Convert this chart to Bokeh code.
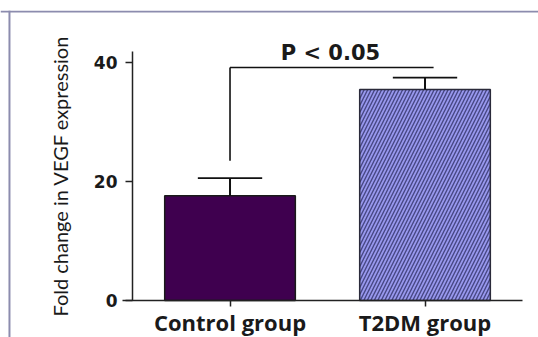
from bokeh.plotting import figure
from bokeh.models import Range1d, FixedTicker, Span
from bokeh.core.properties import value
from bokeh.embed import file_html
from bokeh.resources import INLINE

# ---- data ----
categories = ["Control group", "T2DM group"]
means = [17.6, 35.5]
upper = [20.6, 37.5]
y_ticks = [0, 20, 40]
bracket_y = 39.2
bracket_drop = 23.5
p_text = "P < 0.05"

xs = [i + 0.5 for i in range(len(categories))]
bar_w = 0.67
cap_half = 0.165

p = figure(width=538, height=337, output_backend="svg", toolbar_location=None,
           title=None,
           x_range=Range1d(-0.677, 2.082), y_range=Range1d(-6.224, 48.78),
           min_border=0, min_border_top=10)
p.outline_line_color = None
p.xgrid.grid_line_color = None
p.ygrid.grid_line_color = None
p.background_fill_color = "white"
p.border_fill_color = "white"

# frame border (decoration)
p.add_layout(Span(location=-0.631, dimension="height", line_color="#8c8cae", line_width=2))
p.add_layout(Span(location=48.61, dimension="width", line_color="#8c8cae", line_width=2))

# bars
p.vbar(x=[xs[0]], top=[means[0]], width=bar_w, bottom=0,
       fill_color="#3f004f", line_color="#1a1a1a", line_width=1.5)
p.vbar(x=[xs[1]], top=[means[1]], width=bar_w, bottom=0,
       fill_color="#9898ee", line_color="#2a2a3a", line_width=1.5,
       hatch_pattern="/", hatch_color="#33336a", hatch_alpha=0.8,
       hatch_scale=7, hatch_weight=1.4)

# error bars
p.segment(x0=xs, y0=means, x1=xs, y1=upper, line_color="#111111", line_width=2)
p.segment(x0=[x - cap_half for x in xs], y0=upper,
          x1=[x + cap_half for x in xs], y1=upper, line_color="#111111", line_width=1.8)

# significance bracket
p.segment(x0=[xs[0], xs[0]], y0=[bracket_y, bracket_y],
          x1=[xs[1] + 0.044, xs[0]], y1=[bracket_y, bracket_drop],
          line_color="#111111", line_width=1.6)
p.text(x=[1.015], y=[41.7], text=[p_text], text_align="center",
       text_baseline="middle", text_font=value("DejaVu Sans"),
       text_font_style="bold", text_font_size="21px", text_color="#1a1a1a")

# axes (fixed inside the frame)
p.xaxis.fixed_location = 0
p.xaxis.bounds = (-0.051, 2.0)
p.xaxis.ticker = FixedTicker(ticks=xs)
p.xaxis.major_label_overrides = {x: c for x, c in zip(xs, categories)}
p.xaxis.major_label_text_font = "Open Sans"
p.xaxis.major_label_text_font_style = "bold"
p.xaxis.major_label_text_font_size = "22px"
p.xaxis.major_label_text_color = "#1a1a1a"
p.xaxis.major_label_standoff = 1
p.xaxis.major_tick_out = 6
p.xaxis.major_tick_in = 0
p.xaxis.minor_tick_line_color = None
p.xaxis.axis_line_width = 1.5
p.xaxis.axis_line_color = "#222222"
p.xaxis.major_tick_line_width = 1.5
p.xaxis.major_tick_line_color = "#222222"

p.yaxis.fixed_location = 0
p.yaxis.ticker = FixedTicker(ticks=y_ticks)
p.yaxis.bounds = (0, 41.9)
p.yaxis.major_label_text_font = "DejaVu Sans"
p.yaxis.major_label_text_font_style = "bold"
p.yaxis.major_label_text_font_size = "17px"
p.yaxis.major_label_text_color = "#1a1a1a"
p.yaxis.major_label_standoff = 8
p.yaxis.major_tick_out = 7
p.yaxis.major_tick_in = 0
p.yaxis.minor_tick_line_color = None
p.yaxis.axis_line_width = 1.5
p.yaxis.axis_line_color = "#222222"
p.yaxis.major_tick_line_width = 1.5
p.yaxis.major_tick_line_color = "#222222"
p.yaxis.axis_label = "Fold change in VEGF expression"
p.yaxis.axis_label_text_font = "Lato"
p.yaxis.axis_label_text_font_style = "normal"
p.yaxis.axis_label_text_font_size = "20px"
p.yaxis.axis_label_text_color = "#1a1a1a"
p.yaxis.axis_label_standoff = 19

open("out.html", "w").write(file_html(p, INLINE))
